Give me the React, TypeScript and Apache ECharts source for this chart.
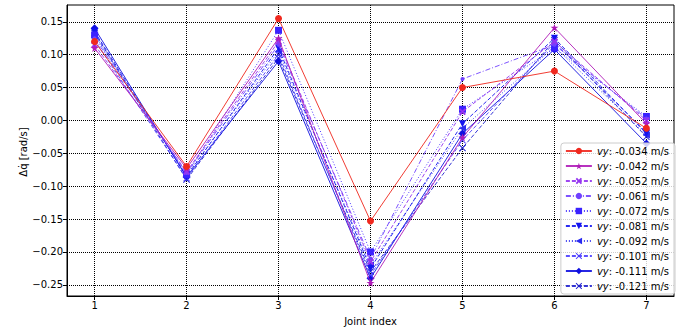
import React, { useEffect, useRef } from "react";
import * as echarts from "echarts";

const joints = [1, 2, 3, 4, 5, 6, 7];
const yTicks = [-0.25, -0.2, -0.15, -0.1, -0.05, 0, 0.05, 0.1, 0.15];
const vyLabels = ["-0.034", "-0.042", "-0.052", "-0.061", "-0.072", "-0.081", "-0.092", "-0.101", "-0.111", "-0.121"];

const s034 = [0.12, -0.07, 0.155, -0.153, 0.05, 0.075, -0.012];
const s042 = [0.11, -0.073, 0.125, -0.247, -0.026, 0.141, -0.005];
const s052 = [0.115, -0.078, 0.12, -0.215, 0.013, 0.12, 0.0];
const s061 = [0.125, -0.08, 0.115, -0.21, 0.063, 0.115, 0.003];
const s072 = [0.13, -0.082, 0.137, -0.2, 0.017, 0.11, 0.006];
const s081 = [0.135, -0.085, 0.11, -0.225, -0.005, 0.125, -0.02];
const s092 = [0.128, -0.083, 0.105, -0.22, -0.012, 0.112, -0.022];
const s101 = [0.122, -0.088, 0.1, -0.235, -0.03, 0.118, -0.018];
const s111 = [0.14, -0.086, 0.09, -0.24, -0.02, 0.108, -0.035];
const s121 = [0.133, -0.09, 0.095, -0.23, -0.042, 0.122, -0.025];

const seriesValues = [s034, s042, s052, s061, s072, s081, s092, s101, s111, s121];

const colors = ["#f0281e", "#b01cb8", "#9433f0", "#7040ff", "#3a22ff", "#1414f0", "#2a2af0", "#4a3cff", "#1010e0", "#2020d0"];
const lineTypes: any[] = ["solid", "solid", [4, 2], [5, 2, 1, 2], [1, 2], [4, 2], [1, 2], [4, 2], "solid", [4, 2]];
const starPath = "path://M5,0 L6.2,3.6 L10,3.6 L6.9,5.8 L8.1,9.5 L5,7.2 L1.9,9.5 L3.1,5.8 L0,3.6 L3.8,3.6 Z";
const xFilled = "path://M2,0 L5,3 L8,0 L10,2 L7,5 L10,8 L8,10 L5,7 L2,10 L0,8 L3,5 L0,2 Z";
const xThin = "path://M1,0 L5,4 L9,0 L10,1 L6,5 L10,9 L9,10 L5,6 L1,10 L0,9 L4,5 L0,1 Z";
const symbols = [
  "circle",
  starPath,
  xFilled,
  "circle",
  "rect",
  "path://M0,0 L10,0 L5,10 Z",
  "path://M10,0 L10,10 L0,5 Z",
  xThin,
  "path://M5,0 L8,5 L5,10 L2,5 Z",
  xThin,
];
const symbolSizes = [7, 8, 7, 4, 7, 7, 7, 7, 8, 7];

const fmt = (v: number) => {
  const s = Math.abs(v) < 1e-9 ? "0.00" : v.toFixed(2);
  return s.replace("-", "\u2212");
};

export default function App() {
  const ref = useRef<HTMLDivElement>(null);
  useEffect(() => {
    document.body.style.margin = "0";
    if (!ref.current) return;
    const chart = echarts.init(ref.current, undefined, { renderer: "svg" });
    const font = "DejaVu Sans";
    chart.setOption({
      animation: false,
      textStyle: { fontFamily: font },
      grid: {
        left: 67,
        right: 17,
        top: 5,
        bottom: 31,
        show: true,
        borderColor: "#000",
        borderWidth: 1,
        backgroundColor: "transparent",
      },
      graphic: [
        {
          type: "text",
          x: 23,
          y: 152,
          rotation: Math.PI / 2,
          style: { text: "\u0394q [rad/s]", font: "10px 'DejaVu Sans'", fill: "#000", align: "center", verticalAlign: "middle" },
        },
        {
          type: "text",
          x: 22,
          y: 166.5,
          rotation: Math.PI / 2,
          style: { text: "\u02D9", font: "10px 'DejaVu Sans'", fill: "#000", align: "center", verticalAlign: "middle" },
        },
      ],
      xAxis: {
        type: "value",
        min: 0.7,
        max: 7.3,
        name: "Joint index",
        nameLocation: "middle",
        nameGap: 20,
        nameTextStyle: { fontFamily: font, fontSize: 10, color: "#000" },
        axisLine: { show: true, onZero: false, lineStyle: { color: "#000", width: 1 } },
        axisTick: { show: true, length: 4, customValues: joints, lineStyle: { color: "#000" } },
        axisLabel: { customValues: joints, fontFamily: font, fontSize: 10, color: "#000", margin: 4, formatter: (v: number) => String(v) },
        splitLine: { show: true, lineStyle: { color: "#000", type: [1, 1], width: 1 } },
      },
      yAxis: {
        type: "value",
        min: -0.267,
        max: 0.1755,
        axisLine: { show: true, onZero: false, lineStyle: { color: "#000", width: 1 } },
        axisTick: { show: true, length: 4, customValues: yTicks, lineStyle: { color: "#000" } },
        axisLabel: { customValues: yTicks, fontFamily: font, fontSize: 10, color: "#000", margin: 4, formatter: (v: number) => fmt(v) },
        splitLine: { show: true, lineStyle: { color: "#000", type: [1, 1], width: 1 } },
      },
      legend: {
        orient: "vertical",
        right: 16,
        bottom: 37,
        itemWidth: 26,
        itemHeight: 8,
        itemGap: 3,
        padding: [2, 6, 2, 4],
        backgroundColor: "rgba(255,255,255,0.8)",
        borderColor: "#ccc",
        borderWidth: 1,
        borderRadius: 3,
        data: vyLabels,
        formatter: (name: string) => `{i|vy}: ${name} m/s`,
        textStyle: {
          fontFamily: font,
          fontSize: 10,
          color: "#000",
          lineHeight: 12,
          rich: { i: { fontStyle: "italic", fontFamily: font, fontSize: 10, color: "#000" } },
        },
      },
      series: seriesValues.map((vals, i) => ({
        name: vyLabels[i],
        type: "line",
        data: vals.map((v, j) => [joints[j], v]),
        symbol: symbols[i],
        symbolSize: symbolSizes[i],
        showSymbol: true,
        color: colors[i],
        lineStyle: { color: colors[i], width: 1, type: lineTypes[i], opacity: 0.9 },
        itemStyle: { color: colors[i] },
        z: 10 - i,
      })),
    });
    return () => chart.dispose();
  }, []);
  return <div ref={ref} style={{ width: 691, height: 331 }} />;
}
